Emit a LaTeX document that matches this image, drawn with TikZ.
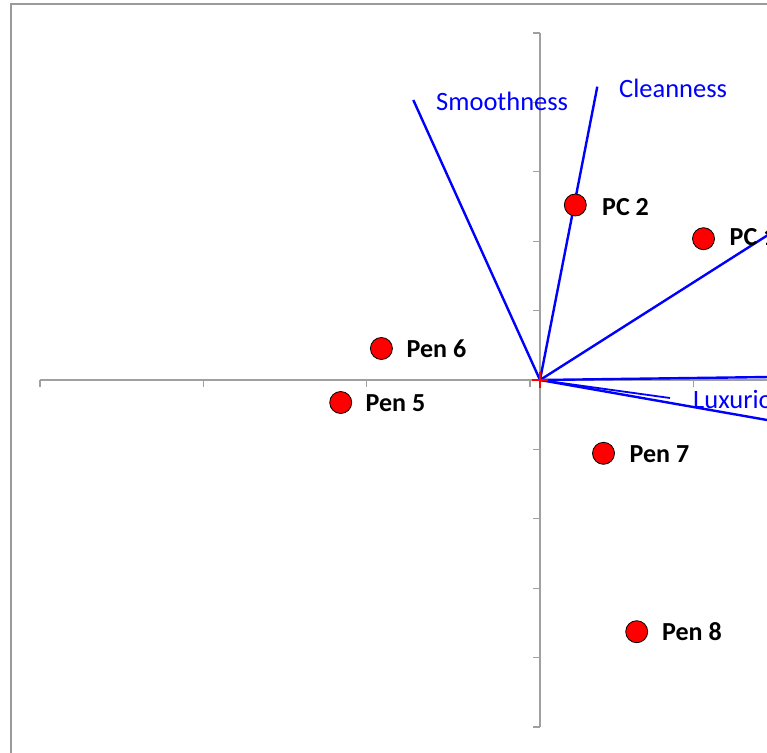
\documentclass[tikz,border=0pt]{standalone}
\usepackage{fontspec}
\setmainfont{Carlito}
\definecolor{axisgray}{HTML}{A0A0A0}
\definecolor{framegray}{HTML}{9A9A9A}
\begin{document}
\begin{tikzpicture}[x=1pt,y=-1pt,
  axisline/.style={draw=axisgray, line width=1.3pt},
  frameline/.style={draw=framegray, line width=1.2pt},
  loadline/.style={draw=blue, line width=2.4pt},
  penpt/.style={circle, fill=red, draw=black, line width=0.8pt, minimum size=22pt, inner sep=0pt},
  ptlab/.style={font=\fontsize{26}{30}\selectfont\bfseries, anchor=base west, inner sep=0pt},
  varlab/.style={font=\fontsize{26.5}{30}\selectfont, text=blue, anchor=base west, inner sep=0pt}]
\useasboundingbox (0,0) rectangle (767,752);
\fill[white] (0,0) rectangle (767,752);
% frame
\coordinate (fTL) at (11,4);
\coordinate (fBL) at (11,760);
\coordinate (fTR) at (780,4);
\draw[frameline] (fBL) -- (fTL) -- (fTR);
% axes
\coordinate (O) at (540,380);
\coordinate (vTop) at (540,33);
\coordinate (vBot) at (540,727);
\coordinate (hL) at (40,380);
\coordinate (hR) at (790,380);
\draw[axisline] (vTop) -- (vBot);
\draw[axisline] (hL) -- (hR);
\foreach \k in {0,...,10}{
  \draw[axisline] (533,{33+69.4*\k}) -- (540,{33+69.4*\k});
}
\foreach \k in {0,...,4}{
  \draw[axisline] ({40+163.3*\k},380) -- ({40+163.3*\k},387);
}
% loading vectors
\coordinate (smoothEnd) at (413.3,100);
\coordinate (cleanEnd) at (597.3,86.7);
\coordinate (urEnd) at (800,214.6);
\coordinate (hEnd) at (800,376.6);
\coordinate (lowEnd) at (800,425.8);
\coordinate (luxEnd) at (670,398);
\draw[loadline] (O) -- (smoothEnd);
\draw[loadline] (O) -- (cleanEnd);
\draw[loadline] (O) -- (urEnd);
\draw[loadline] (O) -- (hEnd);
\draw[loadline] (O) -- (lowEnd);
\draw[loadline, line width=1.8pt] (O) -- (luxEnd);
% variable labels
\node[varlab] (smooth) at (436,110) {Smoothness};
\node[varlab] (clean) at (619,97.3) {Cleanness};
\node[varlab] (lux) at (693,408) {Luxurious};
% origin marker
\coordinate (oL) at (532,380);
\coordinate (oR) at (548,380);
\coordinate (oU) at (540,372);
\coordinate (oD) at (540,388);
\draw[red, line width=1.6pt] (oL) -- (oR) (oU) -- (oD);
% points
\node[penpt] (pc2) at (575.3,205) {};
\node[penpt] (pc1) at (703.5,238.7) {};
\node[penpt] (pen6) at (381.4,348.5) {};
\node[penpt] (pen5) at (340.7,402.5) {};
\node[penpt] (pen7) at (603.5,453.3) {};
\node[penpt] (pen8) at (636.7,631.7) {};
\node[ptlab] (pc2l) at (602,215) {PC 2};
\node[ptlab] (pc1l) at (729.5,245) {PC 1};
\node[ptlab] (pen6l) at (406.5,357.3) {Pen 6};
\node[ptlab] (pen5l) at (365.5,411.7) {Pen 5};
\node[ptlab] (pen7l) at (629.5,462.3) {Pen 7};
\node[ptlab] (pen8l) at (662,640.7) {Pen 8};
\end{tikzpicture}
\end{document}
